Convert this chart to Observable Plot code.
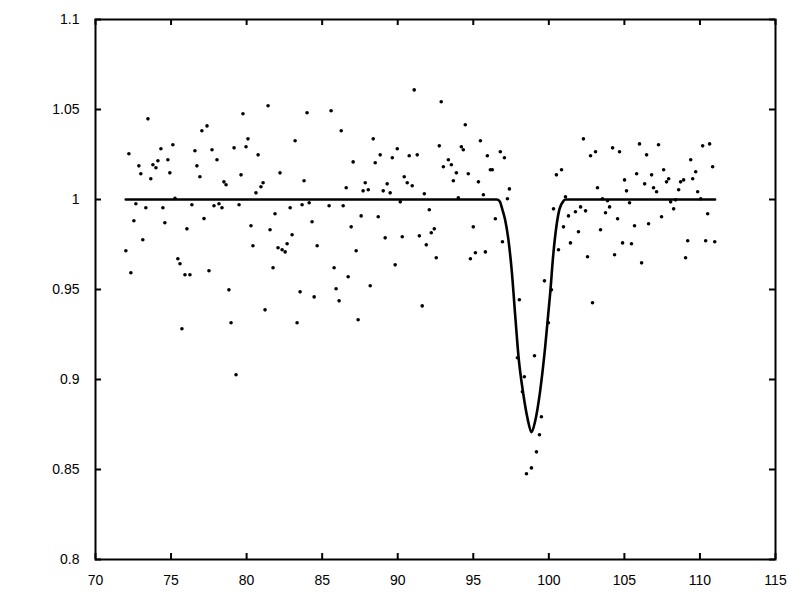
<!DOCTYPE html>
<html>
<head>
<meta charset="utf-8">
<script src="https://cdn.jsdelivr.net/npm/d3@7"></script>
<script src="https://cdn.jsdelivr.net/npm/@observablehq/plot@0.6"></script>
<style>
  html, body { margin: 0; padding: 0; background: #fff; }
  #chart { width: 800px; height: 600px; }
</style>
</head>
<body>
<div id="chart"></div>
<script>
// Observed data points (x, flux)
const obsX = [
72.01,72.21,72.34,72.54,72.67,72.87,73.00,73.13,73.33,73.47,73.66,73.80,74.00,74.13,74.33,74.46,74.59,74.79,74.92,75.12,
75.26,75.45,75.59,75.72,75.92,76.05,76.25,76.38,76.58,76.71,76.91,77.04,77.18,77.38,77.51,77.71,77.84,78.04,78.17,78.37,
78.50,78.64,78.83,78.97,79.17,79.30,79.50,79.63,79.76,79.96,80.09,80.29,80.42,80.62,80.76,80.95,81.09,81.22,81.42,81.55,
81.75,81.88,82.08,82.21,82.35,82.55,82.68,82.88,83.01,83.21,83.34,83.54,83.67,83.80,84.00,84.14,84.33,84.47,84.67,85.46,
85.59,85.79,85.92,86.12,86.26,86.39,86.59,86.72,86.92,87.05,87.25,87.38,87.58,87.71,87.85,88.05,88.18,88.38,88.51,88.71,
88.84,89.04,89.17,89.30,89.50,89.64,89.83,89.97,90.17,90.30,90.43,90.63,90.76,90.96,91.09,91.29,91.43,91.62,91.76,91.89,
92.09,92.22,92.42,92.55,92.75,92.88,93.02,93.35,93.55,93.68,93.88,94.01,94.21,94.34,94.47,94.67,94.81,95.00,95.14,95.34,
95.47,95.67,95.80,95.93,96.13,96.26,96.46,96.79,96.93,97.06,97.26,97.39,97.92,98.05,98.25,98.38,98.52,98.85,99.05,99.18,
99.38,99.51,99.71,99.97,100.17,100.31,100.50,100.64,100.84,100.97,101.10,101.30,101.43,101.76,101.96,102.10,102.29,102.43,102.56,102.76,
102.89,103.09,103.22,103.42,103.55,103.75,103.88,104.02,104.22,104.35,104.55,104.68,104.88,105.01,105.14,105.34,105.47,105.67,105.81,106.00,
106.14,106.34,106.47,106.60,106.80,106.93,107.13,107.26,107.46,107.60,107.79,107.93,108.06,108.26,108.39,108.59,108.72,108.92,109.05,109.19,
109.39,109.52,109.72,109.85,110.05,110.18,110.38,110.51,110.64,110.84,110.98
];
const obsY = [
0.9715,1.0254,0.9593,0.9882,0.9976,1.0187,1.0143,0.9776,0.9954,1.0448,1.0115,1.0193,1.0176,1.0215,1.0282,0.9954,0.9871,1.0221,1.0148,1.0304,
1.0006,0.9671,0.9643,0.9282,0.9582,0.9837,0.9582,0.9971,1.0271,1.0187,1.0126,1.0382,0.9894,1.0409,0.9604,1.0276,0.9965,1.0221,0.9976,0.9954,
1.0098,1.0082,0.9498,0.9315,1.0287,0.9026,0.9971,1.0137,1.0476,1.0293,1.0337,0.9854,0.9743,1.0037,1.0248,1.0071,1.0093,0.9387,1.0521,0.9832,
0.9621,0.9921,0.9732,1.0148,0.9721,0.9709,0.9754,0.9954,0.9804,1.0326,0.9315,0.9487,0.9971,1.0104,1.0482,0.9982,0.9876,0.9459,0.9743,0.9965,
1.0493,0.9621,0.9504,0.9437,1.0382,0.9965,1.0065,0.9571,0.9848,1.0209,0.9715,0.9332,0.9909,1.0048,1.0093,1.0054,0.9521,1.0337,1.0204,0.9904,
1.0248,1.0048,0.9787,1.0087,1.0037,1.0232,0.9637,1.0282,0.9987,0.9793,1.0126,1.0093,1.0243,1.0076,1.0609,1.0248,0.9798,0.9409,1.0032,0.9748,
0.9943,0.9815,0.9837,0.9676,1.0298,1.0543,1.0182,1.0221,1.0193,1.0104,1.0148,1.0009,1.0293,1.0276,1.0415,1.0143,0.9671,0.9848,0.9704,1.0098,
1.0326,1.0026,0.9709,1.0243,1.0165,1.0165,0.9893,1.0265,0.9765,1.0232,1.0004,1.0059,0.9121,0.9443,0.8932,0.9015,0.8476,0.8509,0.9132,0.8598,
0.8693,0.8793,0.9548,0.9315,0.9498,0.9948,1.0137,0.9721,1.0165,0.9848,1.0015,0.9909,0.9759,0.9932,0.9821,0.9959,1.0337,0.9937,0.9682,1.0243,
0.9426,1.0265,1.0065,0.9832,1.0004,0.9926,0.9993,0.9959,1.0287,0.9693,0.9893,1.0265,0.9759,1.0109,1.0048,0.9982,0.9754,0.9854,1.0143,1.0309,
0.9648,1.0087,1.0248,0.9865,1.0137,1.0065,1.0043,1.0304,0.9904,1.0165,1.0098,1.0115,0.9987,0.9948,0.9998,1.0054,1.0098,1.0109,0.9676,0.9771,
1.0221,1.0115,1.0154,1.0043,1.0004,1.0298,0.9771,0.9921,1.0309,1.0182,0.9765
];

// Model curve
const modelX = [72.0, 96.55, 96.75, 96.93, 97.10, 97.32, 97.55, 97.77, 97.99, 98.30, 98.60, 98.85, 99.09, 99.42, 99.75, 100.09, 100.30, 100.50, 100.70, 100.97, 101.10, 111.0];
const modelY = [1.0, 1.0, 0.999, 0.9943, 0.989, 0.978, 0.960, 0.936, 0.913, 0.8925, 0.878, 0.8707, 0.8767, 0.8933, 0.9174, 0.948, 0.970, 0.985, 0.9945, 0.9992, 1.0, 1.0];

// Ticks
const xTicks = [70, 75, 80, 85, 90, 95, 100, 105, 110, 115];
const xTickLabels = ["70", "75", "80", "85", "90", "95", "100", "105", "110", "115"];
const yTicks = [0.8, 0.85, 0.9, 0.95, 1.0, 1.05, 1.1];
const yTickLabels = ["0.8", "0.85", "0.9", "0.95", "1", "1.05", "1.1"];

const points = obsX.map((x, i) => ({x, y: obsY[i]}));
const model = modelX.map((x, i) => ({x, y: modelY[i]}));

const W = 800, H = 600;
const mL = 95, mR = 25, mT = 19, mB = 41;
const innerW = W - mL - mR, innerH = H - mT - mB;
const tickLen = 6;

const chart = Plot.plot({
  width: W,
  height: H,
  marginLeft: mL,
  marginRight: mR,
  marginTop: mT,
  marginBottom: mB,
  style: {fontFamily: "'Liberation Sans', Arial, sans-serif", fontSize: "14px", background: "#fff", color: "#000"},
  x: {domain: [70, 115]},
  y: {domain: [0.8, 1.1]},
  marks: [
    Plot.axisX(xTicks, {tickSize: 0, tickPadding: 16, fontSize: 14, tickFormat: (d, i) => xTickLabels[i], label: null}),
    Plot.axisY(yTicks, {tickSize: 0, tickPadding: 16, fontSize: 14, tickFormat: (d, i) => yTickLabels[i], label: null}),
    // inward ticks (bottom, top, left, right)
    Plot.tickX(xTicks, {x: d => d, stroke: "#000", strokeWidth: 2, insetTop: innerH - tickLen}),
    Plot.tickX(xTicks, {x: d => d, stroke: "#000", strokeWidth: 2, insetBottom: innerH - tickLen}),
    Plot.tickY(yTicks, {y: d => d, stroke: "#000", strokeWidth: 2, insetRight: innerW - tickLen}),
    Plot.tickY(yTicks, {y: d => d, stroke: "#000", strokeWidth: 2, insetLeft: innerW - tickLen}),
    Plot.line(model, {x: "x", y: "y", stroke: "#000", strokeWidth: 2.6, curve: "monotone-x", strokeLinejoin: "round"}),
    Plot.dot(points, {x: "x", y: "y", r: 1.8, fill: "#000", stroke: "none"}),
    Plot.frame({stroke: "#000", strokeWidth: 2})
  ]
});
document.getElementById("chart").appendChild(chart);
</script>
</body>
</html>
